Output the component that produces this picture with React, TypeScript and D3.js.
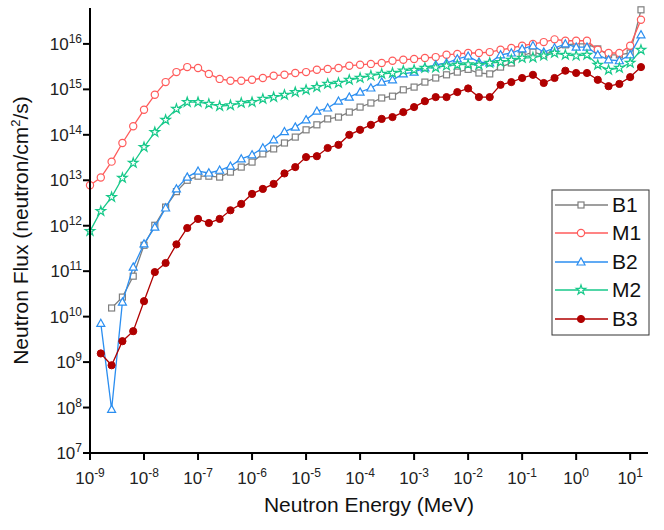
import * as d3 from "d3";

// log10(E / MeV) of each energy group
const energyExp = [
  -9.0, -8.8, -8.6, -8.4, -8.2, -8.0, -7.8, -7.6, -7.4, -7.2,
  -7.0, -6.8, -6.6, -6.4, -6.2, -6.0, -5.8, -5.6, -5.4, -5.2,
  -5.0, -4.8, -4.6, -4.4, -4.2, -4.0, -3.8, -3.6, -3.4, -3.2,
  -3.0, -2.8, -2.6, -2.4, -2.2, -2.0, -1.8, -1.6, -1.4, -1.2,
  -1.0, -0.8, -0.6, -0.4, -0.2, 0.0, 0.2, 0.4, 0.6, 0.8,
  1.0, 1.2,
];

// log10(flux) per series, null = no value
const b1Log = [
  null, null, 10.19, 10.43, 10.89, 11.57, 12.01, 12.41, 12.75, 13.0,
  13.09, 13.09, 13.07, 13.18, 13.29, 13.4, 13.58, 13.69, 13.82, 13.95,
  14.11, 14.22, 14.35, 14.39, 14.5, 14.61, 14.7, 14.81, 14.85, 14.99,
  15.05, 15.16, 15.25, 15.32, 15.38, 15.44, 15.36, 15.34, 15.49, 15.58,
  15.74, 15.82, 15.76, 15.85, 15.98, 16.0, 16.0, 15.89, 15.76, 15.76,
  15.8, 16.75,
];
const m1Log = [
  12.89, 13.06, 13.41, 13.82, 14.19, 14.55, 14.88, 15.16, 15.38, 15.49,
  15.47, 15.34, 15.23, 15.19, 15.19, 15.21, 15.25, 15.3, 15.32, 15.36,
  15.38, 15.43, 15.45, 15.47, 15.52, 15.54, 15.56, 15.58, 15.63, 15.65,
  15.67, 15.69, 15.71, 15.76, 15.78, 15.8, 15.8, 15.82, 15.87, 15.91,
  15.96, 16.0, 16.04, 16.1, 16.07, 16.07, 16.07, 15.87, 15.8, 15.8,
  15.96, 16.53,
];
const b2Log = [
  null, 9.85, 7.96, 10.32, 11.09, 11.6, 11.97, 12.39, 12.81, 13.07,
  13.2, 13.16, 13.22, 13.31, 13.47, 13.56, 13.71, 13.89, 14.07, 14.17,
  14.33, 14.52, 14.59, 14.74, 14.83, 14.94, 15.03, 15.16, 15.21, 15.34,
  15.38, 15.47, 15.54, 15.58, 15.67, 15.73, 15.6, 15.58, 15.76, 15.8,
  15.89, 15.96, 15.82, 15.91, 16.0, 15.93, 15.93, 15.76, 15.65, 15.63,
  15.76, 16.2,
];
const m2Log = [
  11.88, 12.32, 12.63, 13.05, 13.38, 13.73, 14.06, 14.33, 14.57, 14.72,
  14.72, 14.68, 14.63, 14.65, 14.7, 14.72, 14.79, 14.83, 14.88, 14.94,
  14.99, 15.05, 15.12, 15.14, 15.21, 15.25, 15.3, 15.34, 15.36, 15.41,
  15.43, 15.47, 15.48, 15.52, 15.54, 15.55, 15.54, 15.58, 15.6, 15.65,
  15.69, 15.7, 15.74, 15.8, 15.76, 15.74, 15.76, 15.54, 15.43, 15.47,
  15.58, 15.87,
];
const b3Log = [
  null, 9.19, 8.93, 9.46, 9.68, 10.34, 10.98, 11.18, 11.59, 11.95,
  12.15, 12.06, 12.15, 12.34, 12.48, 12.7, 12.81, 12.92, 13.15, 13.29,
  13.51, 13.53, 13.71, 13.78, 14.0, 14.11, 14.22, 14.35, 14.39, 14.5,
  14.61, 14.74, 14.83, 14.83, 14.94, 15.02, 14.83, 14.83, 15.1, 15.16,
  15.25, 15.32, 15.14, 15.25, 15.41, 15.36, 15.36, 15.21, 15.07, 15.12,
  15.27, 15.49,
];

const seriesNames = ["B1", "M1", "B2", "M2", "B3"];
const seriesColors = ["#7f7f7f", "#ff5b5b", "#2b8ef0", "#17c98a", "#b00000"];
const seriesMarkers = ["square", "circle", "triangle", "star", "dot"];
const seriesData = [b1Log, m1Log, b2Log, m2Log, b3Log];

const xTickExp = [-9, -8, -7, -6, -5, -4, -3, -2, -1, 0, 1];
const yTickExp = [7, 8, 9, 10, 11, 12, 13, 14, 15, 16];

const W = 664;
const H = 530;
const left = 90;
const right = 648;
const top = 8;
const bottom = 453;

function Marker({ kind, x, y, color }: { kind: string; x: number; y: number; color: string }) {
  if (kind === "square")
    return <rect x={x - 3} y={y - 3} width={6} height={6} fill="#fff" stroke={color} strokeWidth={1.2} />;
  if (kind === "circle")
    return <circle cx={x} cy={y} r={3.6} fill="#fff" stroke={color} strokeWidth={1.2} />;
  if (kind === "triangle")
    return <path d={`M${x},${y - 4.2}L${x + 4},${y + 3}L${x - 4},${y + 3}Z`} fill="#fff" stroke={color} strokeWidth={1.2} />;
  if (kind === "star") {
    const p = d3.symbol(d3.symbolStar, 28)();
    return <path d={p!} transform={`translate(${x},${y})`} fill="#fff" stroke={color} strokeWidth={1.2} />;
  }
  return <circle cx={x} cy={y} r={3.6} fill={color} stroke={color} />;
}

function Pow({ exp }: { exp: number }) {
  return (
    <>
      10<tspan fontSize={12} dy={-7}>{exp}</tspan>
    </>
  );
}

export default function App() {
  const x = d3.scaleLog().domain([1e-9, Math.pow(10, 1.33)]).range([left, right]);
  const y = d3.scaleLog().domain([1e7, Math.pow(10, 16.79)]).range([bottom, top]);

  const line = d3
    .line<[number, number | null]>()
    .defined((d) => d[1] !== null)
    .x((d) => x(Math.pow(10, d[0])))
    .y((d) => y(Math.pow(10, d[1] as number)));

  const legendRows = [205, 233, 262, 290, 319];

  return (
    <svg width={W} height={H} style={{ position: "absolute", left: 0, top: 0 }} fontFamily="Liberation Sans, Arial, sans-serif">
      <rect width={W} height={H} fill="#fff" />
      {seriesData.map((vals, s) => {
        const pts = energyExp.map((e, i) => [e, vals[i]] as [number, number | null]);
        return (
          <g key={seriesNames[s]}>
            <path d={line(pts)!} fill="none" stroke={seriesColors[s]} strokeWidth={1.3} />
            {pts
              .filter((p) => p[1] !== null)
              .map((p, i) => (
                <Marker key={i} kind={seriesMarkers[s]} x={x(Math.pow(10, p[0]))} y={y(Math.pow(10, p[1] as number))} color={seriesColors[s]} />
              ))}
          </g>
        );
      })}
      {/* axes */}
      <line x1={left} x2={left} y1={top} y2={bottom + 1} stroke="#000" strokeWidth={2} />
      <line x1={left - 1} x2={right} y1={bottom} y2={bottom} stroke="#000" strokeWidth={2} />
      {xTickExp.map((e) => (
        <g key={e} transform={`translate(${x(Math.pow(10, e))},0)`}>
          <line y1={bottom} y2={bottom + 7} stroke="#000" strokeWidth={2} />
          <text y={bottom + 31} textAnchor="middle" fontSize={17} fill="#222">
            <Pow exp={e} />
          </text>
        </g>
      ))}
      {yTickExp.map((e) => (
        <g key={e} transform={`translate(0,${y(Math.pow(10, e))})`}>
          <line x1={left - 7} x2={left} stroke="#000" strokeWidth={2} />
          <text x={82} y={6} textAnchor="end" fontSize={17} fill="#222">
            <Pow exp={e} />
          </text>
        </g>
      ))}
      <text x={(left + right) / 2} y={512} textAnchor="middle" fontSize={21} fill="#111">
        Neutron Energy (MeV)
      </text>
      <text transform={`translate(28,${(top + bottom) / 2}) rotate(-90)`} textAnchor="middle" fontSize={21} fill="#111">
        Neutron Flux (neutron/cm<tspan fontSize={13} dy={-8}>2</tspan>
        <tspan dy={8}>/s)</tspan>
      </text>
      {/* legend */}
      <rect x={552} y={190} width={97} height={145} fill="#fff" stroke="#333" strokeWidth={1} />
      {seriesNames.map((n, s) => (
        <g key={n}>
          <line x1={555} x2={608} y1={legendRows[s]} y2={legendRows[s]} stroke={seriesColors[s]} strokeWidth={1.5} />
          <Marker kind={seriesMarkers[s]} x={581} y={legendRows[s]} color={seriesColors[s]} />
          <text x={612} y={legendRows[s] + 7} fontSize={21} fill="#111">
            {n}
          </text>
        </g>
      ))}
    </svg>
  );
}
